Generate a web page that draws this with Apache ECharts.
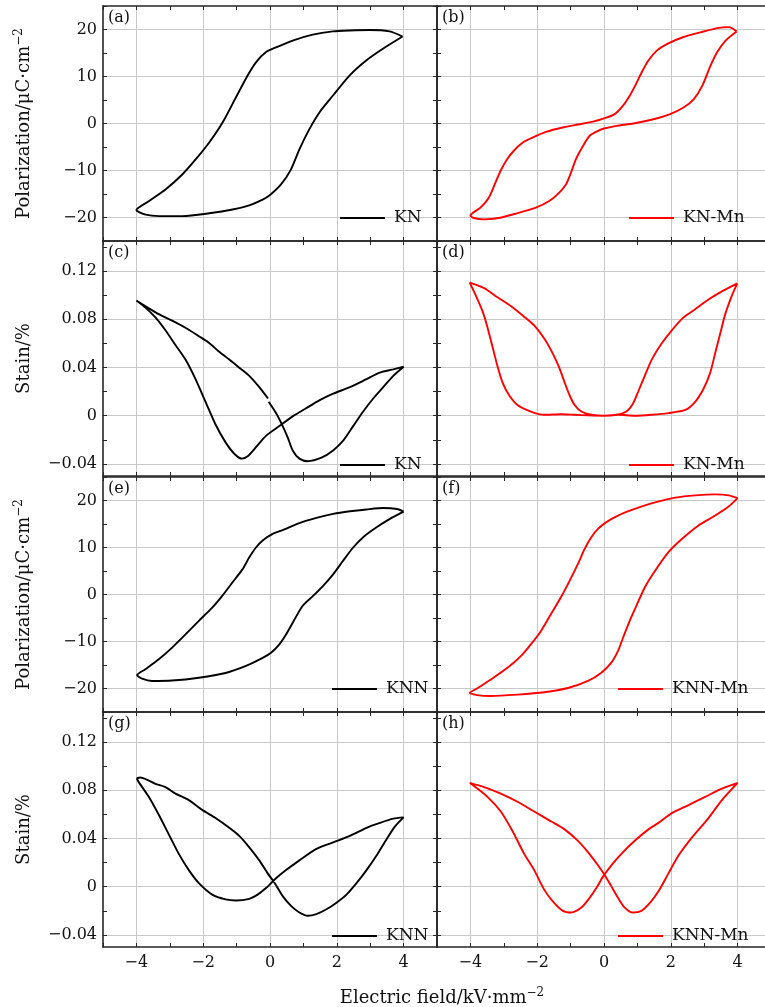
<!DOCTYPE html>
<html><head><meta charset="utf-8">
<script src="https://cdn.jsdelivr.net/npm/echarts@6/dist/echarts.min.js"></script>
<style>html,body{margin:0;padding:0;background:#fff}#c{width:765px;height:1007px}</style>
</head><body><div id="c"></div>
<script>
// ---- data (E field kV/mm, value) ----
const xTickLabels = [-4, -2, 0, 2, 4];
const polTickLabels = [-20, -10, 0, 10, 20];
const strainTickLabels = [-0.04, 0, 0.04, 0.08, 0.12];
const strainTicks = [-0.04, -0.02, 0, 0.02, 0.04, 0.06, 0.08, 0.10, 0.12, 0.14];
const panelLetters = ['(a)', '(b)', '(c)', '(d)', '(e)', '(f)', '(g)', '(h)'];
const sampleNames = ['KN', 'KN-Mn', 'KN', 'KN-Mn', 'KNN', 'KNN-Mn', 'KNN', 'KNN-Mn'];

const knP = [[3.97,18.5],[3.58,19.6],[2.98,19.9],[2.38,19.8],[1.88,19.6],[1.28,18.9],[0.68,17.65],[0.18,16.2],[-0.12,15.2],[-0.42,13.0],[-0.67,10.2],[-1.02,5.55],[-1.42,0.2],[-1.82,-4.05],[-2.22,-7.6],[-2.62,-10.8],[-3.12,-14.0],[-3.62,-16.5],[-4.0,-18.4],[-3.72,-19.4],[-3.32,-19.7],[-2.62,-19.7],[-1.82,-19.1],[-1.12,-18.3],[-0.62,-17.4],[-0.22,-16.2],[0,-15.2],[0.33,-12.95],[0.63,-9.75],[0.88,-5.5],[1.18,-1.2],[1.48,2.35],[1.88,5.9],[2.38,10.2],[2.88,13.4],[3.38,15.9],[3.97,18.5]];
const knMnP = [[3.97,19.6],[3.74,20.5],[3.39,20.3],[2.89,19.4],[2.38,18.4],[1.88,16.9],[1.58,15.5],[1.33,13.4],[1.13,10.9],[0.93,8.0],[0.77,5.9],[0.57,3.8],[0.32,2.0],[0,1.1],[-0.33,0.4],[-0.73,-0.15],[-1.24,-0.85],[-1.74,-1.8],[-2.14,-3.0],[-2.44,-4.1],[-2.7,-5.8],[-2.9,-7.6],[-3.1,-10.1],[-3.25,-12.6],[-3.45,-15.8],[-3.7,-17.9],[-4.0,-19.6],[-3.9,-20.1],[-3.6,-20.4],[-3.15,-20.1],[-2.65,-19.2],[-2.04,-17.9],[-1.64,-16.5],[-1.34,-14.7],[-1.14,-13.0],[-0.99,-10.5],[-0.84,-7.6],[-0.63,-4.8],[-0.43,-2.6],[-0.13,-1.4],[0,-1.07],[0.37,-0.5],[0.88,0],[1.48,0.9],[1.98,2.0],[2.38,3.4],[2.69,5.2],[2.94,8.0],[3.19,12.3],[3.39,15.2],[3.64,17.65],[3.97,19.6]];
const knS = [[-0.06,0.0143],[-0.32,0.0237],[-0.62,0.0331],[-0.92,0.0399],[-1.22,0.0466],[-1.53,0.0533],[-1.83,0.0606],[-2.13,0.066],[-2.53,0.073],[-2.93,0.0789],[-3.33,0.0843],[-3.63,0.0892],[-4.0,0.0956],[-3.73,0.0897],[-3.43,0.0816],[-3.13,0.0709],[-2.83,0.0587],[-2.53,0.0466],[-2.23,0.0304],[-1.93,0.0116],[-1.63,-0.0073],[-1.33,-0.0221],[-1.07,-0.0315],[-0.84,-0.0356],[-0.67,-0.0337],[-0.42,-0.0261],[-0.12,-0.0167],[0.28,-0.0086],[0.68,-0.0005],[1.08,0.0062],[1.49,0.0129],[1.89,0.0183],[2.39,0.0237],[2.89,0.0304],[3.29,0.0358],[3.69,0.0385],[4.0,0.0407],[3.69,0.0331],[3.39,0.0237],[3.09,0.0143],[2.79,0.0035],[2.49,-0.0086],[2.19,-0.0207],[1.89,-0.0288],[1.54,-0.0348],[1.13,-0.0377],[0.88,-0.0356],[0.68,-0.0288],[0.53,-0.018],[0.38,-0.0086],[0.18,0.0022],[-0.04,0.0116]];
const knMnS = [[3.99,0.1099],[3.53,0.1032],[3.13,0.0964],[2.73,0.0884],[2.38,0.0816],[2.03,0.0709],[1.73,0.0601],[1.43,0.0466],[1.22,0.0331],[1.02,0.0197],[0.87,0.0102],[0.67,0.0035],[0.37,0.0008],[0,0],[-0.48,0.0003],[-0.88,0.0008],[-1.29,0.0013],[-1.79,0.0008],[-2.19,0.0035],[-2.59,0.0089],[-2.84,0.017],[-3.04,0.0277],[-3.19,0.0412],[-3.34,0.0574],[-3.49,0.0735],[-3.64,0.087],[-3.85,0.1005],[-4.02,0.1105],[-3.59,0.1059],[-3.19,0.0983],[-2.79,0.0911],[-2.39,0.0822],[-2.09,0.0749],[-1.79,0.0641],[-1.54,0.052],[-1.34,0.0399],[-1.18,0.0277],[-1.03,0.017],[-0.88,0.0089],[-0.68,0.0035],[-0.38,0.0008],[0,0],[0.42,0.0008],[0.92,0],[1.43,0.0008],[1.93,0.0022],[2.43,0.0048],[2.73,0.0116],[2.98,0.0224],[3.18,0.0358],[3.33,0.052],[3.48,0.0682],[3.63,0.0843],[3.84,0.1005],[3.99,0.1099]];
const knnP = [[4.0,17.65],[3.8,18.2],[3.39,18.4],[2.89,18.1],[2.39,17.7],[1.89,17.15],[1.39,16.3],[0.88,15.2],[0.38,13.7],[0.08,12.9],[-0.22,11.5],[-0.42,10.0],[-0.62,7.9],[-0.82,5.4],[-1.12,2.6],[-1.43,-0.3],[-1.73,-2.8],[-2.13,-5.6],[-2.53,-8.5],[-2.93,-11.3],[-3.33,-13.8],[-3.73,-15.9],[-3.98,-17.15],[-3.83,-17.9],[-3.53,-18.4],[-2.93,-18.3],[-2.13,-17.7],[-1.33,-16.7],[-0.72,-15.2],[-0.22,-13.5],[0.03,-12.4],[0.28,-10.6],[0.48,-8.5],[0.68,-6.0],[0.98,-2.4],[1.29,-0.3],[1.59,1.85],[1.89,4.3],[2.19,7.2],[2.49,10.0],[2.79,12.2],[3.19,14.3],[3.59,16.1],[4.0,17.65]];
const knnMnP = [[4.0,20.5],[3.73,21.1],[3.33,21.3],[2.73,21.1],[2.13,20.6],[1.53,19.6],[0.92,18.2],[0.42,16.8],[0.07,15.4],[-0.18,13.95],[-0.38,12.2],[-0.58,9.7],[-0.78,6.5],[-1.03,2.9],[-1.29,-0.6],[-1.59,-4.2],[-1.89,-7.8],[-2.19,-10.6],[-2.49,-13.1],[-2.89,-15.6],[-3.39,-18.1],[-3.8,-20.0],[-4.02,-20.9],[-3.8,-21.4],[-3.39,-21.6],[-2.59,-21.3],[-1.79,-20.8],[-1.08,-19.9],[-0.48,-18.4],[-0.08,-16.65],[0.22,-14.5],[0.42,-12.0],[0.57,-9.2],[0.77,-5.6],[0.97,-2.4],[1.22,1.5],[1.53,5.05],[1.93,9.0],[2.33,11.8],[2.83,14.7],[3.33,16.8],[3.73,18.7],[4.0,20.5]];
const knnS = [[-3.99,0.09],[-3.89,0.0906],[-3.69,0.0889],[-3.43,0.0854],[-3.13,0.0827],[-2.83,0.0773],[-2.43,0.0719],[-2.03,0.0638],[-1.63,0.057],[-1.22,0.0489],[-0.92,0.0422],[-0.62,0.0327],[-0.32,0.0219],[-0.07,0.0111],[0.13,0.0035],[0.38,-0.0078],[0.63,-0.0159],[0.88,-0.0214],[1.13,-0.0241],[1.39,-0.0227],[1.69,-0.0187],[1.99,-0.0132],[2.29,-0.0065],[2.59,0.003],[2.89,0.0138],[3.19,0.0259],[3.49,0.0395],[3.75,0.0503],[4.0,0.0576],[3.69,0.0565],[3.29,0.053],[2.89,0.0489],[2.39,0.0422],[1.89,0.0368],[1.39,0.0314],[0.88,0.0219],[0.48,0.0138],[0.18,0.007],[-0.12,-0.0011],[-0.37,-0.0065],[-0.62,-0.01],[-1.02,-0.0114],[-1.33,-0.0105],[-1.73,-0.0065],[-2.13,0.003],[-2.43,0.0138],[-2.73,0.0273],[-3.03,0.0435],[-3.33,0.0597],[-3.63,0.0746],[-3.93,0.0868],[-3.99,0.09]];
const knnMnS = [[-4.02,0.0862],[-3.59,0.0827],[-3.09,0.0773],[-2.59,0.0705],[-2.09,0.0624],[-1.59,0.0543],[-1.18,0.0476],[-0.78,0.0381],[-0.48,0.0287],[-0.18,0.0178],[0.02,0.0097],[0.22,0.0003],[0.42,-0.0092],[0.62,-0.0173],[0.87,-0.0214],[1.12,-0.02],[1.38,-0.0132],[1.63,-0.0038],[1.93,0.0111],[2.23,0.0259],[2.63,0.0408],[3.13,0.057],[3.53,0.0719],[4.0,0.0862],[3.53,0.0814],[3.03,0.0746],[2.53,0.0678],[2.03,0.0611],[1.63,0.053],[1.33,0.0476],[0.92,0.0381],[0.52,0.0273],[0.22,0.0178],[-0.03,0.0084],[-0.23,-0.0011],[-0.43,-0.0092],[-0.68,-0.0173],[-0.98,-0.0214],[-1.23,-0.02],[-1.54,-0.0119],[-1.79,-0.0024],[-2.09,0.0138],[-2.39,0.0273],[-2.74,0.0462],[-3.09,0.0624],[-3.49,0.0746],[-4.02,0.0862]];

// ---- layout & style ----
const FONT = '"DejaVu Serif", "Liberation Serif", serif';
const FRAME = '#262626';
const GRIDC = '#c9c9c9';
const TXT = '#111';
const colLeft = [103, 437];
const rowTop = [6, 241, 477, 712];
const W = 334, H = 235;
const panelData = [knP, knMnP, knS, knMnS, knnP, knnMnP, knnS, knnMnS];
const panelColor = ['#000', '#ff0000', '#000', '#ff0000', '#000', '#ff0000', '#000', '#ff0000'];
const legendPos = [[340, 218], [629, 218], [340, 465], [629, 465], [332, 689], [618, 689], [332, 936], [618, 936]];

const minus = v => (v < 0 ? '\u2212' : '') + Math.abs(v);
const near = (v, arr) => arr.some(a => Math.abs(a - v) < 1e-9);
const richTitle = {
  m: { color: TXT, fontFamily: FONT, fontSize: 18, fontWeight: 'normal', lineHeight: 22 },
  s: { color: TXT, fontFamily: FONT, fontSize: 12, fontWeight: 'normal', lineHeight: 12, verticalAlign: 'top' }
};

const grid = [], xAxis = [], yAxis = [], series = [], legend = [], title = [];
for (let i = 0; i < 8; i++) {
  const row = Math.floor(i / 2), col = i % 2;
  const isStrain = row % 2 === 1;
  grid.push({ left: colLeft[col], top: rowTop[row], width: W, height: H, containLabel: false, outerBoundsMode: 'none' });
  const tickStyle = { show: true, inside: true, length: 4, lineStyle: { color: FRAME, width: 1 } };
  const lineStyle = { show: true, onZero: false, lineStyle: { color: FRAME, width: 1.6 } };
  // bottom x
  xAxis.push({
    type: 'value', gridIndex: i, position: 'bottom', min: -5, max: 5, interval: 1,
    axisLine: lineStyle, axisTick: tickStyle,
    axisLabel: { show: row === 3, margin: 8, color: TXT, fontFamily: FONT, fontSize: 16,
      formatter: v => near(v, xTickLabels) ? minus(Math.round(v)) : '' },
    splitLine: { show: true, lineStyle: { color: ['rgba(0,0,0,0)', GRIDC], width: 1 } }
  });
  // top x
  xAxis.push({
    type: 'value', gridIndex: i, position: 'top', min: -5, max: 5, interval: 1,
    axisLine: lineStyle, axisTick: tickStyle, axisLabel: { show: false }, splitLine: { show: false }
  });
  let yMain, yMirror;
  if (!isStrain) {
    yMain = {
      type: 'value', gridIndex: i, position: 'left', min: -25, max: 25, interval: 5,
      axisLine: lineStyle, axisTick: tickStyle,
      axisLabel: { show: col === 0, margin: 6, color: TXT, fontFamily: FONT, fontSize: 16,
        formatter: v => near(v, polTickLabels) ? minus(Math.round(v)) : '' },
      splitLine: { show: true, lineStyle: { color: ['rgba(0,0,0,0)', GRIDC], width: 1 } }
    };
    yMirror = { type: 'value', gridIndex: i, position: 'right', min: -25, max: 25, interval: 5,
      axisLine: lineStyle, axisTick: tickStyle, axisLabel: { show: false }, splitLine: { show: false } };
    if (col === 0) {
      yMain.name = '{m|Polarization/\u03bcC\u00b7cm}{s|\u22122}';
    }
  } else {
    yMain = {
      type: 'value', gridIndex: i, position: 'left', min: -0.05, max: 0.145,
      axisLine: lineStyle,
      axisTick: Object.assign({}, tickStyle, { customValues: strainTicks }),
      axisLabel: { show: col === 0, margin: 6, color: TXT, fontFamily: FONT, fontSize: 16,
        customValues: strainTickLabels,
        formatter: v => Math.abs(v) < 1e-9 ? '0' : (v < 0 ? '\u2212' : '') + Math.abs(v).toFixed(2) },
      splitLine: { show: true, lineStyle: { color: [GRIDC, 'rgba(0,0,0,0)'], width: 1 } }
    };
    yMirror = { type: 'value', gridIndex: i, position: 'right', min: -0.05, max: 0.145,
      axisLine: lineStyle, axisTick: Object.assign({}, tickStyle, { customValues: strainTicks }),
      axisLabel: { show: false }, splitLine: { show: false } };
    if (col === 0) yMain.name = '{m|Stain/%}';
  }
  if (col === 0) {
    Object.assign(yMain, {
      nameLocation: 'middle', nameGap: 68, nameRotate: 90,
      nameTextStyle: { color: TXT, fontFamily: FONT, fontSize: 18, rich: richTitle }
    });
  }
  yAxis.push(yMain, yMirror);
  series.push({
    type: 'line', name: sampleNames[i], xAxisIndex: 2 * i, yAxisIndex: 2 * i,
    data: panelData[i], showSymbol: false, smooth: 0.25,
    lineStyle: { color: panelColor[i], width: 1.9 }, itemStyle: { color: panelColor[i] },
    z: 5
  });
  legend.push({
    data: [sampleNames[i]], left: legendPos[i][0], top: legendPos[i][1] - 10, padding: 0,
    icon: 'rect', itemWidth: 45, itemHeight: 2, selectedMode: false,
    textStyle: { color: TXT, fontFamily: FONT, fontSize: 17, lineHeight: 20, padding: [0, 0, 0, 4] }
  });
  title.push({
    text: panelLetters[i], left: colLeft[col] + 5, top: rowTop[row] + 4, padding: 0,
    textStyle: { color: TXT, fontFamily: FONT, fontSize: 16, fontWeight: 'normal' }
  });
}
title.push({
  text: '{m|Electric field/kV\u00b7mm}{s|\u22122}', left: 442, top: 987, textAlign: 'center', padding: 0,
  textStyle: { fontWeight: 'normal', fontFamily: FONT, rich: richTitle }
});

const chart = echarts.init(document.getElementById('c'), null, { renderer: 'canvas' });
chart.setOption({ animation: false, backgroundColor: '#fff', grid, xAxis, yAxis, series, legend, title });
</script></body></html>
